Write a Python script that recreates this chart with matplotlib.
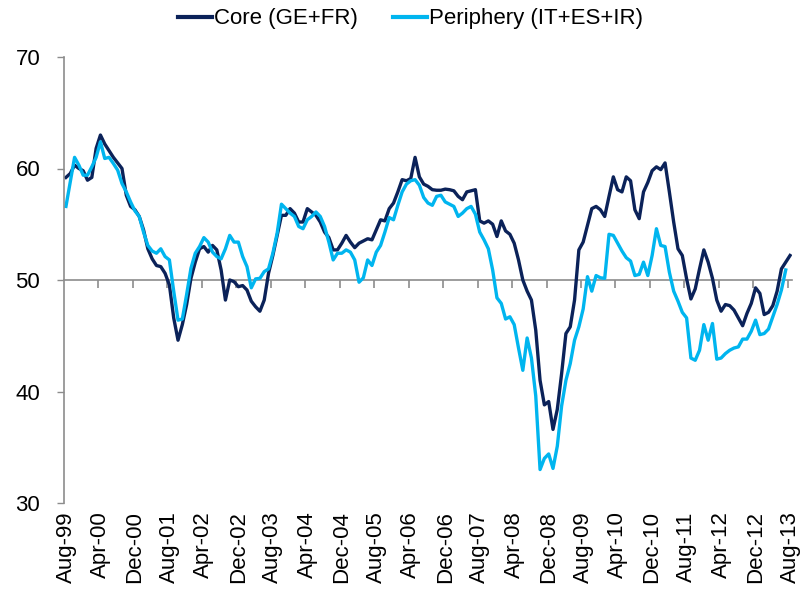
import numpy as np
import matplotlib
matplotlib.use("Agg")
import matplotlib.pyplot as plt

plt.rcParams['font.family'] = ['Liberation Sans', 'DejaVu Sans']

# Monthly PMI, Aug-99 .. Aug-13
core = [
    59.2, 59.55, 60.3, 60.0, 59.8, 58.95, 59.2, 61.8, 63.0, 62.2,
    61.6, 61.0, 60.5, 60.0, 57.6, 56.6, 56.3, 55.7, 54.5, 52.8,
    51.9, 51.3, 51.2, 50.6, 49.55, 46.6, 44.6, 46.0, 47.8, 50.15,
    51.6, 52.8, 53.0, 52.5, 53.1, 52.7, 50.9, 48.2, 50.0, 49.85,
    49.4, 49.5, 49.1, 48.1, 47.6, 47.2, 48.2, 50.6, 52.2, 54.0,
    55.8, 55.8, 56.4, 56.0, 55.2, 55.2, 56.4, 56.1, 55.8, 55.2,
    54.3, 53.8, 52.7, 52.7, 53.3, 54.0, 53.4, 52.9, 53.3, 53.5,
    53.7, 53.6, 54.5, 55.4, 55.3, 56.4, 56.9, 57.9, 59.0, 58.9,
    59.1, 61.0, 59.25, 58.6, 58.4, 58.1, 58.05, 58.05, 58.15, 58.1,
    58.0, 57.5, 57.2, 57.9, 58.0, 58.1, 55.3, 55.1, 55.3, 55.0,
    53.9, 55.3, 54.4, 54.1, 53.3, 51.8, 50.0, 49.0, 48.2, 45.5,
    41.0, 38.8, 39.1, 36.6, 38.4, 41.6, 45.2, 45.8, 48.2, 52.7,
    53.4, 54.9, 56.4, 56.6, 56.3, 55.7, 57.5, 59.25, 58.1, 57.9,
    59.25, 58.9, 56.3, 55.5, 57.9, 58.75, 59.8, 60.15, 59.9, 60.5,
    57.9, 55.2, 52.8, 52.2, 50.1, 48.3, 49.2, 51.0, 52.7, 51.6,
    50.15, 48.2, 47.2, 47.8, 47.7, 47.3, 46.6, 45.9, 47.0, 47.9,
    49.3, 48.8, 46.9, 47.1, 47.7, 49.0, 51.0, 51.6, 52.2,
]

periphery = [
    56.6, 58.8, 61.0, 60.3, 59.4, 59.4, 60.15, 61.0, 62.4, 60.9,
    61.0, 60.45, 59.85, 58.65, 57.9, 57.0, 56.2, 55.7, 54.3, 53.1,
    52.6, 52.4, 52.8, 52.1, 51.8, 49.0, 46.4, 46.5, 48.7, 51.05,
    52.4, 53.0, 53.8, 53.4, 52.5, 52.1, 51.9, 52.8, 54.0, 53.4,
    53.4, 52.1, 51.2, 49.3, 50.1, 50.15, 50.75, 51.0, 52.4, 54.2,
    56.8, 56.4, 56.0, 55.7, 54.8, 54.6, 55.4, 55.7, 56.1, 55.7,
    54.8, 53.4, 51.8, 52.4, 52.4, 52.7, 52.5, 51.8, 49.8, 50.2,
    51.8, 51.3, 52.5, 53.1, 54.3, 55.6, 55.4, 56.7, 57.9, 58.6,
    58.9, 59.0, 58.5, 57.4, 56.9, 56.7, 57.5, 57.6, 57.0, 56.8,
    56.6, 55.7, 56.0, 56.4, 56.6, 55.9, 54.3, 53.6, 52.8, 50.9,
    48.4, 47.9, 46.5, 46.7, 46.0, 43.9, 41.9, 44.8, 43.0, 39.6,
    33.0, 34.0, 34.4, 33.1, 35.1, 38.7, 41.0, 42.5, 44.6, 45.8,
    47.4, 50.3, 49.0, 50.4, 50.2, 50.15, 54.1, 54.0, 53.3, 52.6,
    52.0, 51.7, 50.4, 50.5, 51.6, 50.4, 52.2, 54.6, 53.1, 53.0,
    50.7, 49.0, 48.1, 47.1, 46.6, 43.0, 42.8, 43.7, 46.0, 44.6,
    46.1, 42.9, 43.0, 43.4, 43.7, 43.9, 44.0, 44.7, 44.7, 45.4,
    46.4, 45.1, 45.2, 45.6, 46.7, 47.8, 49.1, 50.9,
]

months = ['Aug-99', 'Apr-00', 'Dec-00', 'Aug-01', 'Apr-02', 'Dec-02', 'Aug-03',
          'Apr-04', 'Dec-04', 'Aug-05', 'Apr-06', 'Dec-06', 'Aug-07', 'Apr-08',
          'Dec-08', 'Aug-09', 'Apr-10', 'Dec-10', 'Aug-11', 'Apr-12', 'Dec-12',
          'Aug-13']
label_step = 8
yticks = [30, 40, 50, 60, 70]

core_color = '#0B2259'
peri_color = '#00B5EF'
grey = '#8C8C8C'

fig = plt.figure(figsize=(8.05, 5.93), dpi=100)
ax = fig.add_axes([63.8 / 805, 1 - 503 / 593, (792.2 - 63.8) / 805, 446 / 593])

x_core = np.arange(len(core))
x_peri = np.arange(len(periphery))
ax.plot(x_core, core, color=core_color, lw=2.4, label='Core (GE+FR)', solid_joinstyle='round')
ax.plot(x_peri, periphery, color=peri_color, lw=2.4, label='Periphery (IT+ES+IR)', solid_joinstyle='round')

n = len(core)
ax.set_xlim(-0.5, n - 0.5)
ax.set_ylim(yticks[0], yticks[-1])

ax.set_yticks(yticks)
ax.set_yticklabels([str(v) for v in yticks], fontsize=16)
ax.tick_params(axis='y', direction='out', length=5, width=1, color=grey, pad=12)

ax.set_xticks(np.arange(0, n, label_step))
ax.set_xticklabels(months, rotation=90, fontsize=16)
ax.tick_params(axis='x', length=0, pad=6)

for s in ['top', 'right', 'bottom']:
    ax.spines[s].set_visible(False)
ax.spines['left'].set_color(grey)
ax.spines['left'].set_linewidth(1.2)

# category axis crossing at 50
frac = (50 - yticks[0]) / (yticks[-1] - yticks[0])
sec = ax.secondary_xaxis(frac)
sec.set_alignment('bottom')
sec.set_xticks(np.arange(label_step - 0.5, n - 1, label_step))
sec.set_xticklabels([])
sec.tick_params(axis='x', direction='out', length=6, width=1.2, color=grey)
for s in sec.spines.values():
    s.set_color(grey)
    s.set_linewidth(1.2)

leg = fig.legend(loc='center', bbox_to_anchor=(0.51, 0.968), ncol=2, frameon=False,
                 fontsize=16, handlelength=1.5, handletextpad=0.1, columnspacing=1.6)
for line in leg.get_lines():
    line.set_linewidth(3)

fig.savefig('out.png', dpi=100)
